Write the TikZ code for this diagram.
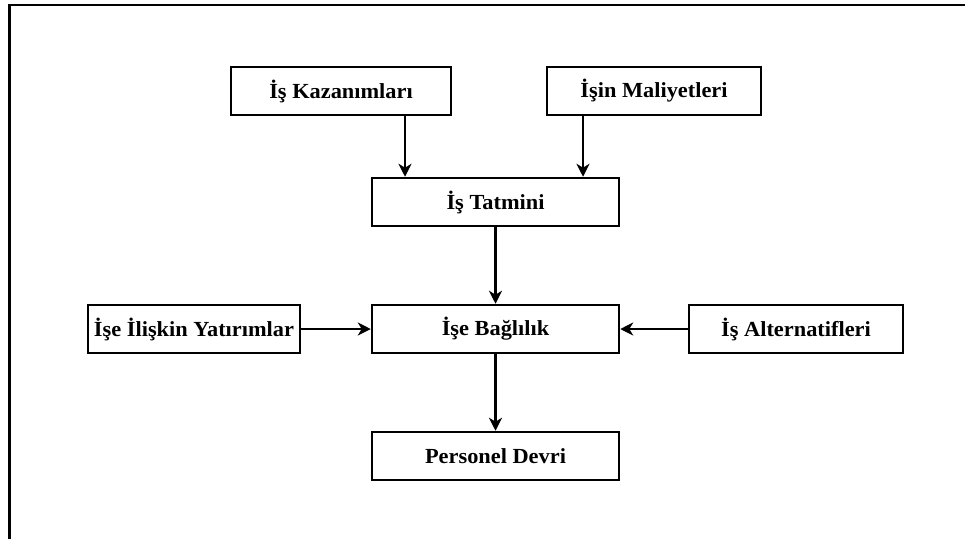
\documentclass[tikz,border=0pt]{standalone}
\usepackage{fontspec}
\setmainfont{Liberation Serif}[FakeStretch=1.04]
\usetikzlibrary{arrows.meta}
\begin{document}
\begin{tikzpicture}[x=1pt,y=-1pt,
  box/.style={draw=black,line width=2.5pt,minimum height=48pt,inner sep=0pt,
    font=\fontsize{21.5}{25}\selectfont\bfseries,text=black},
  arr/.style={line width=2.4pt,-{Stealth[length=13pt,width=13pt,inset=4pt]}}]
\useasboundingbox (0,0) rectangle (965,539);
\draw[line width=2.8pt] (9.5,539) -- (9.5,5) -- (965,5);
\node[box,minimum width=220pt] (kaz) at (341,91) {İş Kazanımları};
\node[box,minimum width=214pt] (mal) at (654,91) {İşin Maliyetleri};
\node[box,minimum width=247pt] (tat) at (495.5,202) {İş Tatmini};
\node[box,minimum width=247pt] (bag) at (495.5,329) {İşe Bağlılık};
\node[box,minimum width=212pt] (yat) at (194,329) {İşe İlişkin Yatırımlar};
\node[box,minimum width=214pt] (alt) at (796,329) {İş Alternatifleri};
\node[box,minimum width=247pt] (per) at (495.5,456) {Personel Devri};
\coordinate (k1) at (405,0);
\coordinate (m1) at (583,0);
\draw[arr] (kaz.south -| k1) -- (tat.north -| k1);
\draw[arr] (mal.south -| m1) -- (tat.north -| m1);
\draw[arr] (tat) -- (bag);
\draw[arr] (bag) -- (per);
\draw[arr] (yat) -- (bag);
\draw[arr] (alt) -- (bag);
\end{tikzpicture}
\end{document}
